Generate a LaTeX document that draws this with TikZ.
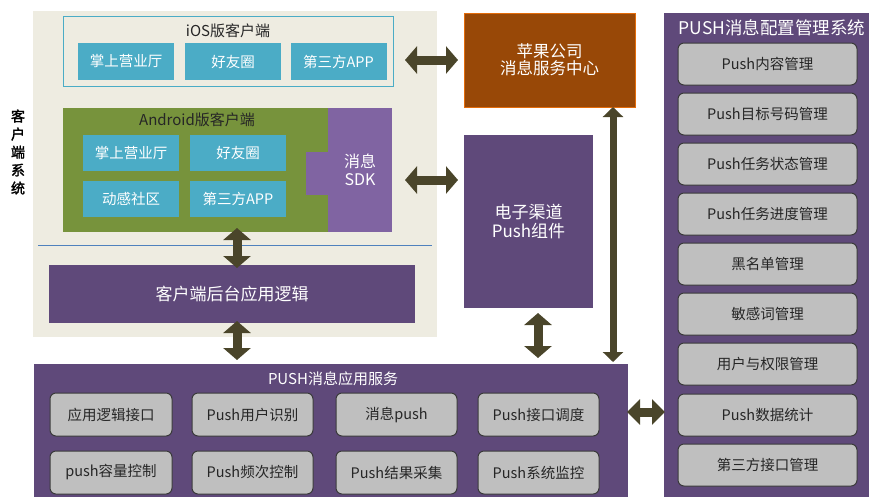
\documentclass[tikz,border=0pt]{standalone}
\usepackage{fontspec}
\setmainfont{Noto Sans CJK SC}
\newfontfamily\cjkbold[FakeBold=2]{Noto Sans CJK SC}
\usetikzlibrary{arrows.meta}
\definecolor{beige}{HTML}{EEECE1}
\definecolor{iosb}{HTML}{4BACC6}
\definecolor{tealc}{HTML}{4BACC6}
\definecolor{greenc}{HTML}{77933C}
\definecolor{sdkc}{HTML}{8064A2}
\definecolor{purp}{HTML}{5F497A}
\definecolor{applec}{HTML}{984807}
\definecolor{appleb}{HTML}{E46C0A}
\definecolor{grayc}{HTML}{BFBFBF}
\definecolor{grayb}{HTML}{3A3A3A}
\definecolor{arrowc}{HTML}{4A452A}
\definecolor{linec}{HTML}{4F81BD}
\definecolor{darktext}{HTML}{262626}
\begin{document}
\begin{tikzpicture}[x=1pt,y=-1pt,
  rect/.style={inner sep=0pt, outer sep=0pt, anchor=center},
  tealbox/.style={rect, fill=tealc, minimum width=96pt, text=white, font=\fontsize{14.5}{16}\selectfont},
  graybox/.style={rect, fill=grayc, draw=grayb, line width=1pt, rounded corners=6pt, text=darktext, font=\fontsize{14.5}{16}\selectfont},
  titletext/.style={inner sep=0pt, font=\fontsize{15}{17}\selectfont},
  bigarr/.style={draw=arrowc, line width=9pt, arrows={Triangle[width=27pt,length=12pt]-Triangle[width=27pt,length=12pt]}},
  midarr/.style={draw=arrowc, line width=9pt, arrows={Triangle[width=25pt,length=13pt]-Triangle[width=25pt,length=13pt]}},
  thinarr/.style={draw=arrowc, line width=7pt, arrows={Triangle[width=20pt,length=10pt]-Triangle[width=20pt,length=10pt]}}
]
\useasboundingbox (0,0) rectangle (869,496);

% client system
\node[rect, fill=beige, minimum width=404pt, minimum height=326pt] (client) at (235,174) {};
\node[inner sep=0pt, align=center, font=\cjkbold\fontsize{14}{18}\selectfont] (clientlabel) at (18,152) {客\\户\\端\\系\\统};

% iOS
\node[rect, fill=beige, draw=iosb, line width=1pt, minimum width=330pt, minimum height=70pt] (ios) at (228,51) {};
\node[titletext, text=darktext] (iostitle) at (228,31) {iOS版客户端};
\node[tealbox, minimum height=37pt] (i1) at (126,61.5) {掌上营业厅};
\node[tealbox, minimum height=37pt] (i2) at (233,61.5) {好友圈};
\node[tealbox, minimum height=37pt] (i3) at (338.5,61.5) {第三方APP};

% Android
\node[rect, fill=greenc, minimum width=265pt, minimum height=124pt] (android) at (195.5,170) {};
\fill[sdkc] (306,152) rectangle (329,195);
\node[rect, fill=sdkc, minimum width=64pt, minimum height=124pt, text=white, align=center, font=\fontsize{16}{18}\selectfont] (sdk) at (360,170) {消息\\SDK};
\node[titletext, text=darktext] (andtitle) at (197,120) {Android版客户端};
\node[tealbox, minimum height=36pt] (a1) at (131,153) {掌上营业厅};
\node[tealbox, minimum height=36pt] (a2) at (238,153) {好友圈};
\node[tealbox, minimum height=36pt] (a3) at (131,199) {动感社区};
\node[tealbox, minimum height=36pt] (a4) at (238,199) {第三方APP};

\draw[linec, line width=1pt] (38,245) -- (432,245);

% backend
\node[rect, fill=purp, minimum width=366pt, minimum height=58pt, text=white, font=\fontsize{17}{19}\selectfont] (backend) at (232,294) {客户端后台应用逻辑};

% Apple
\node[rect, fill=applec, draw=appleb, line width=1pt, minimum width=171pt, minimum height=94pt, text=white, align=center, font=\fontsize{16.5}{17}\selectfont] (apple) at (549.5,60) {苹果公司\\消息服务中心};

% electronic channel
\node[rect, fill=purp, minimum width=129pt, minimum height=173pt, text=white, align=center, font=\fontsize{17}{19}\selectfont] (dz) at (528.5,221.5) {电子渠道\\Push组件};

% push app service
\node[rect, fill=purp, minimum width=594pt, minimum height=136pt] (pushapp) at (331,432) {};
\node[titletext, text=white] (pushtitle) at (333,379) {PUSH消息应用服务};
\node[graybox, minimum width=122pt, minimum height=43pt] (p1) at (111,414.5) {应用逻辑接口};
\node[graybox, minimum width=121pt, minimum height=43pt] (p2) at (252.5,414.5) {Push用户识别};
\node[graybox, minimum width=121pt, minimum height=43pt] (p3) at (396.5,414.5) {消息push};
\node[graybox, minimum width=121pt, minimum height=43pt] (p4) at (538.5,414.5) {Push接口调度};
\node[graybox, minimum width=122pt, minimum height=43pt] (p5) at (111,472.5) {push容量控制};
\node[graybox, minimum width=121pt, minimum height=43pt] (p6) at (252.5,472.5) {Push频次控制};
\node[graybox, minimum width=121pt, minimum height=43pt] (p7) at (396.5,472.5) {Push结果采集};
\node[graybox, minimum width=121pt, minimum height=43pt] (p8) at (538.5,472.5) {Push系统监控};

% config system
\node[rect, fill=purp, minimum width=205pt, minimum height=487pt] (config) at (766.5,256.5) {};
\node[inner sep=0pt, text=white, font=\fontsize{17.5}{19}\selectfont] (configtitle) at (772,28) {PUSH消息配置管理系统};
\node[graybox, minimum width=179pt, minimum height=42pt] (c1) at (767.5,64) {Push内容管理};
\node[graybox, minimum width=179pt, minimum height=42pt] (c2) at (767.5,114) {Push目标号码管理};
\node[graybox, minimum width=179pt, minimum height=42pt] (c3) at (767.5,164) {Push任务状态管理};
\node[graybox, minimum width=179pt, minimum height=42pt] (c4) at (767.5,214) {Push任务进度管理};
\node[graybox, minimum width=179pt, minimum height=42pt] (c5) at (767.5,264) {黑名单管理};
\node[graybox, minimum width=179pt, minimum height=42pt] (c6) at (767.5,314) {敏感词管理};
\node[graybox, minimum width=179pt, minimum height=42pt] (c7) at (767.5,364) {用户与权限管理};
\node[graybox, minimum width=179pt, minimum height=42pt] (c8) at (767.5,415) {Push数据统计};
\node[graybox, minimum width=179pt, minimum height=42pt] (c9) at (767.5,465) {第三方接口管理};

% arrows
\draw[bigarr, shorten <=12pt, shorten >=6pt] (ios.east |- apple.west) -- (apple.west);
\coordinate (s2) at ([yshift=-10pt]sdk.east);
\draw[bigarr, shorten <=13pt, shorten >=6pt] (s2) -- (s2 -| dz.west);
\coordinate (s3) at ([xshift=5pt]backend.north);
\draw[bigarr, shorten <=-4pt, shorten >=-3pt] (s3 |- android.south) -- (s3);
\draw[bigarr, shorten <=-2pt, shorten >=4pt] (s3 |- backend.south) -- (s3 |- pushapp.north);
\coordinate (s5) at ([xshift=9.5pt]dz.south);
\draw[bigarr, shorten <=5pt, shorten >=6pt] (s5) -- (s5 |- pushapp.north);
\coordinate (s6) at ([xshift=63.5pt]apple.south);
\draw[thinarr, shorten >=2pt] (s6) -- (s6 |- pushapp.north);
\coordinate (s7) at ([yshift=20pt]pushapp.east);
\draw[midarr, shorten <=-1pt, shorten >=-1pt] (s7) -- (s7 -| config.west);
\end{tikzpicture}
\end{document}
